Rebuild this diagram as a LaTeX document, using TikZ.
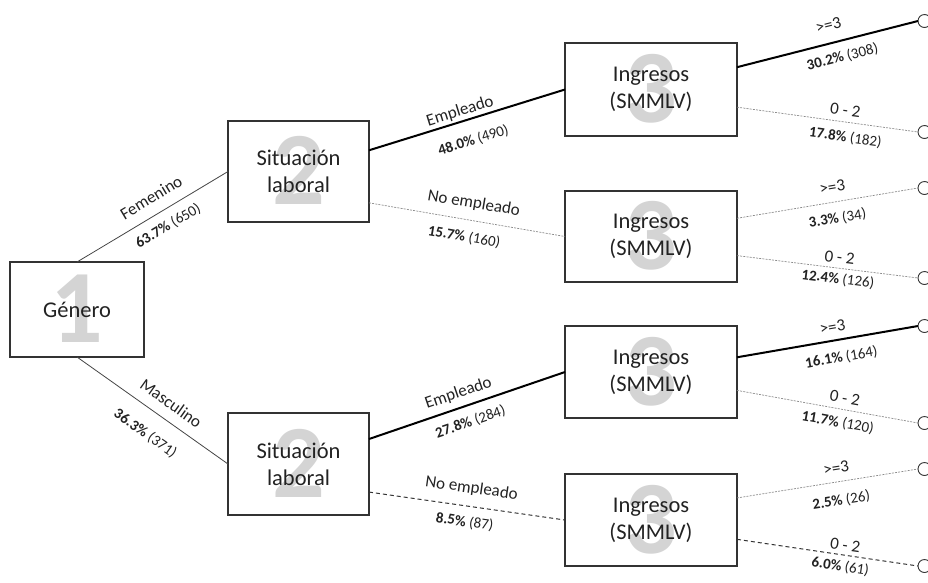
\documentclass[tikz,border=0pt]{standalone}
\usepackage{fontspec}
\setmainfont{Carlito}
\usetikzlibrary{calc}
\definecolor{boxc}{HTML}{333333}
\definecolor{numc}{HTML}{D4D4D4}
\definecolor{txt}{HTML}{222222}
\definecolor{thinc}{HTML}{444444}
\definecolor{dotc}{HTML}{8A8A8A}
\tikzset{
  box/.style={draw=boxc, line width=1.3pt, inner sep=0pt, outer sep=0pt, align=center,
    text=txt, font=\fontsize{22.5}{27}\selectfont},
  bignum/.style={text=numc, inner sep=0pt, font=\fontsize{104}{104}\selectfont\bfseries,
    text height=66pt, text depth=0pt},
  endc/.style={circle, draw=boxc, line width=0.9pt, minimum size=13pt, inner sep=0pt, outer sep=0pt},
  lab/.style={sloped, anchor=center, inner sep=0pt, text=txt, font=\fontsize{17}{20}\selectfont,
    text height=11pt, text depth=0pt},
  pct/.style={sloped, anchor=center, inner sep=0pt, text=txt, font=\fontsize{15}{18}\selectfont,
    text height=9.5pt, text depth=0pt},
  thinln/.style={draw=thinc, line width=0.8pt},
  thickln/.style={draw=black, line width=2pt},
  fineln/.style={draw=dotc, line width=0.7pt, dash pattern=on 2pt off 1.2pt},
  dashln/.style={draw=boxc, line width=1pt, dash pattern=on 4pt off 3pt}
}
\begin{document}
\begin{tikzpicture}[x=1pt,y=-1pt]
\useasboundingbox (0,0) rectangle (928,582);
% big numerals
\node[bignum] (n1) at (77,309.5) {1};
\node[bignum] (n2a) at (298.5,171.5) {2};
\node[bignum] (n2b) at (298.5,464) {2};
\node[bignum] (n3a) at (651,89.5) {3};
\node[bignum] (n3b) at (651,236.5) {3};
\node[bignum] (n3c) at (651,372) {3};
\node[bignum] (n3d) at (651,520) {3};
% boxes
\node[box, minimum width=134pt, minimum height=95pt] (g) at (77,309.5) {Género};
\node[box, minimum width=141pt, minimum height=101pt] (s1) at (298.5,171.5) {Situación\\laboral};
\node[box, minimum width=141pt, minimum height=102pt] (s2) at (298.5,464) {Situación\\laboral};
\node[box, minimum width=172pt, minimum height=93pt] (i1) at (651,89.5) {Ingresos\\(SMMLV)};
\node[box, minimum width=172pt, minimum height=91pt] (i2) at (651,236.5) {Ingresos\\(SMMLV)};
\node[box, minimum width=172pt, minimum height=92pt] (i3) at (651,372) {Ingresos\\(SMMLV)};
\node[box, minimum width=172pt, minimum height=92pt] (i4) at (651,520) {Ingresos\\(SMMLV)};
% end circles
\node[endc] (c1) at (924.5,21) {};
\node[endc] (c2) at (924.5,132) {};
\node[endc] (c3) at (924.5,188) {};
\node[endc] (c4) at (924.5,278) {};
\node[endc] (c5) at (924.5,326) {};
\node[endc] (c6) at (924.5,423) {};
\node[endc] (c7) at (924.5,469) {};
\node[endc] (c8) at (924.5,566) {};
% level 1
\draw[thinln] (g.north) -- (s1.west)
  node[lab, pos=0.55, yshift=17pt] (l1) {Femenino}
  node[pct, pos=0.55, yshift=-15.6pt] (p1) {\textbf{63.7\%} (650)};
\draw[thinln] (g.south) -- (s2.west)
  node[lab, pos=0.56, yshift=16.3pt] (l2) {Masculino}
  node[pct, pos=0.54, yshift=-22.5pt] (p2) {\textbf{36.3\%} (371)};
% level 2
\draw[thickln] ($(s1.north east)!0.29!(s1.south east)$) -- (i1.west)
  node[lab, pos=0.48, yshift=11pt] (l3) {Empleado}
  node[pct, pos=0.50, yshift=-21pt] (p3) {\textbf{48.0\%} (490)};
\draw[fineln] ($(s1.north east)!0.81!(s1.south east)$) -- (i2.west)
  node[lab, pos=0.52, yshift=17.9pt] (l4) {No empleado}
  node[pct, pos=0.50, yshift=-17.3pt] (p4) {\textbf{15.7\%} (160)};
\draw[thickln] ($(s2.north east)!0.255!(s2.south east)$) -- (i3.west)
  node[lab, pos=0.48, yshift=15.2pt] (l5) {Empleado}
  node[pct, pos=0.49, yshift=-16.4pt] (p5) {\textbf{27.8\%} (284)};
\draw[dashln] ($(s2.north east)!0.775!(s2.south east)$) -- (i4.west)
  node[lab, pos=0.51, yshift=18.9pt] (l6) {No empleado}
  node[pct, pos=0.50, yshift=-15.8pt] (p6) {\textbf{8.5\%} (87)};
% level 3
\draw[thickln] ($(i1.north east)!0.26!(i1.south east)$) -- (c1.west)
  node[lab, pos=0.53, yshift=18.1pt] (l7) {>=3}
  node[pct, pos=0.56, yshift=-16.1pt] (p7) {\textbf{30.2\%} (308)};
\draw[fineln] ($(i1.north east)!0.69!(i1.south east)$) -- (c2.west)
  node[lab, pos=0.59, yshift=11.8pt] (l8) {0 - 2}
  node[pct, pos=0.61, yshift=-14.9pt] (p8) {\textbf{17.8\%} (182)};
\draw[fineln] ($(i2.north east)!0.30!(i2.south east)$) -- (c3.west)
  node[lab, pos=0.54, yshift=15pt] (l9) {>=3}
  node[pct, pos=0.54, yshift=-16.5pt] (p9) {\textbf{3.3\%} (34)};
\draw[fineln] ($(i2.north east)!0.71!(i2.south east)$) -- (c4.west)
  node[lab, pos=0.56, yshift=10.5pt] (l10) {0 - 2}
  node[pct, pos=0.565, yshift=-10.7pt] (p10) {\textbf{12.4\%} (126)};
\draw[thickln] ($(i3.north east)!0.34!(i3.south east)$) -- (c5.west)
  node[lab, pos=0.54, yshift=13.4pt] (l11) {>=3}
  node[pct, pos=0.56, yshift=-17.7pt] (p11) {\textbf{16.1\%} (164)};
\draw[fineln] ($(i3.north east)!0.70!(i3.south east)$) -- (c6.west)
  node[lab, pos=0.585, yshift=11.5pt] (l12) {0 - 2}
  node[pct, pos=0.57, yshift=-13.4pt] (p12) {\textbf{11.7\%} (120)};
\draw[fineln] ($(i4.north east)!0.26!(i4.south east)$) -- (c7.west)
  node[lab, pos=0.56, yshift=13.8pt] (l13) {>=3}
  node[pct, pos=0.56, yshift=-18.6pt] (p13) {\textbf{2.5\%} (26)};
\draw[dashln] ($(i4.north east)!0.71!(i4.south east)$) -- (c8.west)
  node[lab, pos=0.59, yshift=10pt] (l14) {0 - 2}
  node[pct, pos=0.58, yshift=-11.5pt] (p14) {\textbf{6.0\%} (61)};
\end{tikzpicture}
\end{document}
